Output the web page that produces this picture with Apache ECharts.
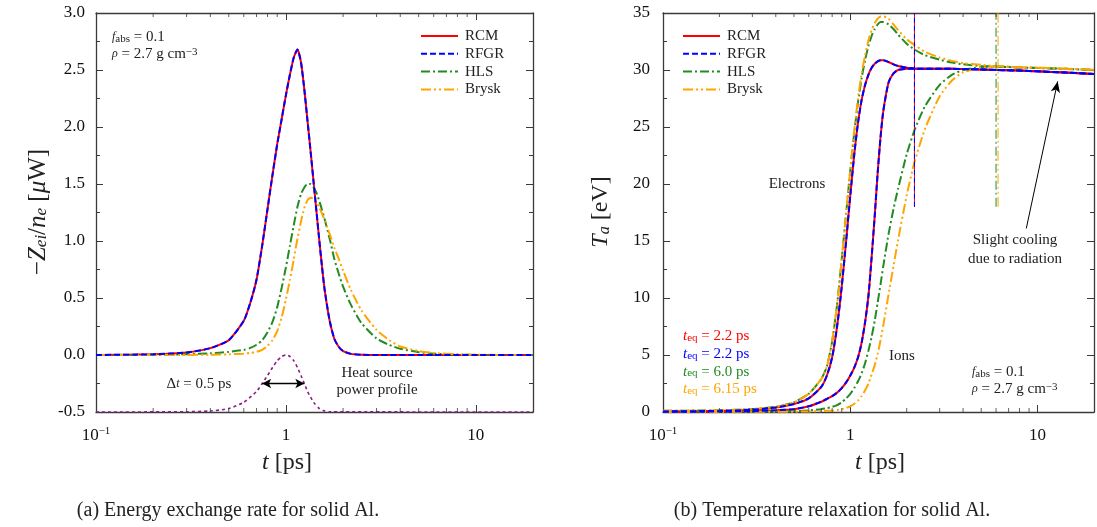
<!DOCTYPE html>
<html>
<head>
<meta charset="utf-8">
<script src="https://cdn.jsdelivr.net/npm/echarts@6/dist/echarts.min.js"></script>
<style>
  html, body { margin: 0; padding: 0; background: #fff; }
  #chart { width: 1097px; height: 527px; }
</style>
</head>
<body>
<div id="chart"></div>
<script>
// ---------- (a) energy exchange rate, -Z_ei / n_e [μW] ----------
const tRate = [0.1, 0.2, 0.3, 0.4, 0.5, 0.6, 0.65, 0.7, 0.75, 0.8, 0.85, 0.9, 0.95, 1.0, 1.05, 1.1, 1.15, 1.2, 1.25, 1.3,
               1.35, 1.4, 1.45, 1.5, 1.55, 1.6, 1.7, 1.8, 1.9, 2.0, 2.2, 2.5, 3.0, 3.5, 4, 5, 6, 8, 10, 20];
const rcmRate   = [0, 0.006, 0.022, 0.06, 0.13, 0.30, 0.46, 0.66, 0.96, 1.28, 1.58, 1.85, 2.07, 2.28, 2.46, 2.61, 2.68, 2.57, 2.33, 2.05,
                   1.78, 1.51, 1.25, 1.00, 0.77, 0.57, 0.30, 0.14, 0.07, 0.035, 0.01, 0.002, 0, 0, 0, 0, 0, 0, 0, 0];
const rfgrRate  = [0, 0.006, 0.022, 0.06, 0.13, 0.30, 0.46, 0.66, 0.96, 1.28, 1.58, 1.85, 2.07, 2.28, 2.46, 2.61, 2.68, 2.57, 2.33, 2.05,
                   1.78, 1.51, 1.25, 1.00, 0.77, 0.57, 0.30, 0.14, 0.07, 0.035, 0.01, 0.002, 0, 0, 0, 0, 0, 0, 0, 0];
const hlsRate   = [0, 0.002, 0.007, 0.015, 0.027, 0.045, 0.062, 0.09, 0.13, 0.20, 0.29, 0.42, 0.59, 0.77, 0.96, 1.14, 1.30, 1.41, 1.47, 1.50,
                   1.50, 1.47, 1.42, 1.35, 1.27, 1.19, 1.02, 0.84, 0.71, 0.60, 0.44, 0.28, 0.145, 0.088, 0.055, 0.025, 0.012, 0.004, 0.001, 0];
const bryskRate = [0, 0, 0.001, 0.003, 0.006, 0.012, 0.018, 0.028, 0.045, 0.08, 0.13, 0.21, 0.33, 0.49, 0.66, 0.84, 1.02, 1.17, 1.29, 1.36,
                   1.38, 1.37, 1.34, 1.29, 1.24, 1.18, 1.06, 0.94, 0.84, 0.74, 0.57, 0.39, 0.22, 0.13, 0.075, 0.035, 0.018, 0.006, 0.002, 0];
// heat source power profile (shifted and scaled, FWHM 0.5 ps)
const tHeat = [0.1, 0.3, 0.4, 0.5, 0.6, 0.7, 0.75, 0.8, 0.85, 0.9, 0.95, 1.0, 1.05, 1.1, 1.15, 1.2, 1.25, 1.3, 1.4, 1.5, 1.6, 1.7, 20];
const heatProfile = [-0.5, -0.498, -0.491, -0.47, -0.415, -0.32, -0.25, -0.18, -0.11, -0.05, -0.013, 0, -0.013, -0.05, -0.11,
                     -0.18, -0.25, -0.32, -0.415, -0.47, -0.491, -0.498, -0.5];
const pulseWidth = [0.75, 1.25];   // Δt = 0.5 ps arrow span
const pulseArrowLevel = -0.25;

// ---------- (b) temperature relaxation, T_a [eV] ----------
const tTemp = [0.1, 0.2, 0.3, 0.4, 0.5, 0.6, 0.7, 0.75, 0.8, 0.85, 0.9, 0.95, 1.0, 1.05, 1.1, 1.15, 1.2, 1.25, 1.3, 1.35,
               1.4, 1.45, 1.5, 1.6, 1.7, 1.8, 2.0, 2.2, 2.5, 3.0, 3.5, 4.0, 5.0, 6.0, 8.0, 10, 14, 20];
const rcmTe   = [0.05, 0.1, 0.2, 0.4, 0.7, 1.2, 2.2, 3.2, 4.8, 7.5, 11.0, 15.0, 19.0, 22.6, 25.4, 27.4, 28.7, 29.6, 30.2, 30.55,
                 30.75, 30.85, 30.85, 30.7, 30.5, 30.35, 30.2, 30.12, 30.1, 30.1, 30.1, 30.08, 30.05, 30.0, 29.95, 29.88, 29.78, 29.65];
const rcmTi   = [0.02, 0.04, 0.08, 0.15, 0.25, 0.5, 0.9, 1.15, 1.4, 1.7, 2.1, 2.6, 3.2, 3.9, 4.8, 6.1, 7.9, 10.2, 13.6, 17.2,
                 21.0, 24.1, 26.4, 28.9, 29.7, 30.0, 30.1, 30.12, 30.1, 30.1, 30.1, 30.08, 30.05, 30.0, 29.95, 29.88, 29.78, 29.65];
const rfgrTe  = [0.05, 0.1, 0.2, 0.4, 0.7, 1.2, 2.2, 3.2, 4.8, 7.5, 11.0, 15.0, 19.0, 22.6, 25.4, 27.4, 28.7, 29.6, 30.2, 30.55,
                 30.75, 30.85, 30.85, 30.7, 30.5, 30.35, 30.2, 30.12, 30.1, 30.1, 30.1, 30.08, 30.05, 30.0, 29.95, 29.88, 29.78, 29.65];
const rfgrTi  = [0.02, 0.04, 0.08, 0.15, 0.25, 0.5, 0.9, 1.15, 1.4, 1.7, 2.1, 2.6, 3.2, 3.9, 4.8, 6.1, 7.9, 10.2, 13.6, 17.2,
                 21.0, 24.1, 26.4, 28.9, 29.7, 30.0, 30.1, 30.12, 30.1, 30.1, 30.1, 30.08, 30.05, 30.0, 29.95, 29.88, 29.78, 29.65];
const hlsTe   = [0.1, 0.15, 0.25, 0.45, 0.85, 1.6, 2.9, 4.0, 6.2, 9.4, 13.4, 17.4, 21.2, 24.5, 27.2, 29.3, 30.9, 32.1, 33.0, 33.6,
                 34.0, 34.2, 34.2, 34.0, 33.6, 33.1, 32.3, 31.8, 31.3, 30.9, 30.65, 30.5, 30.35, 30.3, 30.22, 30.18, 30.1, 30.0];
const hlsTi   = [0.02, 0.03, 0.04, 0.06, 0.08, 0.13, 0.25, 0.33, 0.45, 0.6, 0.85, 1.2, 1.6, 2.1, 2.7, 3.4, 4.3, 5.4, 6.6, 8.0,
                 9.6, 11.2, 12.8, 15.6, 17.8, 19.6, 22.6, 24.7, 26.8, 28.7, 29.6, 30.0, 30.25, 30.3, 30.22, 30.18, 30.1, 30.0];
const bryskTe = [0.1, 0.15, 0.25, 0.45, 0.85, 1.6, 2.9, 4.0, 6.2, 9.4, 13.4, 17.4, 21.3, 24.7, 27.5, 29.7, 31.3, 32.6, 33.5, 34.1,
                 34.5, 34.7, 34.7, 34.5, 34.0, 33.5, 32.7, 32.2, 31.6, 31.1, 30.8, 30.6, 30.45, 30.35, 30.25, 30.2, 30.12, 30.02];
const bryskTi = [0.01, 0.01, 0.02, 0.02, 0.03, 0.05, 0.08, 0.1, 0.12, 0.17, 0.25, 0.36, 0.5, 0.72, 1.0, 1.4, 1.9, 2.5, 3.3, 4.1,
                 5.1, 6.3, 7.6, 10.3, 12.8, 15.1, 19.0, 21.9, 24.8, 27.7, 29.1, 29.8, 30.2, 30.3, 30.25, 30.2, 30.12, 30.02];
// equilibration times [ps] and the span of their marker lines [eV]
const tEqRcm = 2.2, tEqRfgr = 2.2, tEqHls = 6.0, tEqBrysk = 6.15;
const tEqSpan = [18, 35];
// arrow pointing at the radiative cooling tail: [t, T] start and end
const coolingArrow = [[8.7, 16.1], [12.8, 29.0]];

// ---------- axes ----------
const tRange = [0.1, 20];
const rateRange = [-0.5, 3.0], rateStep = 0.5;
const tempRange = [0, 35], tempStep = 5;
const logMinorTicks = [0.2, 0.3, 0.4, 0.5, 0.6, 0.7, 0.8, 0.9, 2, 3, 4, 5, 6, 7, 8, 9];
const modelNames = ['RCM', 'RFGR', 'HLS', 'Brysk'];

// ---------- styling ----------
const FONT = "'Liberation Serif','DejaVu Serif',serif";
const AXIS_COLOR = '#3a3a3a';
const C = { rcm: '#ff0000', rfgr: '#0000ff', hls: '#228b22', brysk: '#ffa500', heat: '#8b1a8b' };
const DASH = { rcm: null, rfgr: [6, 3], hls: [9, 3, 2, 3], brysk: [10, 3, 2, 3, 2, 3], heat: [3, 3] };
const MODEL_KEYS = ['rcm', 'rfgr', 'hls', 'brysk'];

const pairs = (ts, vs) => ts.map((t, i) => [t, vs[i]]);

const GRIDS = [
  { left: 96, top: 13, width: 437, height: 399 },
  { left: 663, top: 13, width: 437, height: 399 }
];

const richMath = {
  i: { fontFamily: FONT, fontStyle: 'italic' },
  sub: { fontFamily: FONT, fontSize: 11, verticalAlign: 'bottom', lineHeight: 12 },
  sup: { fontFamily: FONT, fontSize: 11, verticalAlign: 'top', lineHeight: 12 }
};

function logLabel(v) {
  if (Math.abs(v - 0.1) < 1e-9) return '10{sup|−1}';
  if (Math.abs(v - 1) < 1e-9) return '1';
  if (Math.abs(v - 10) < 1e-9) return '10';
  return '';
}

function xAxisPair(gridIndex) {
  const common = {
    type: 'log', logBase: 10, min: tRange[0], max: tRange[1], gridIndex,
    axisLine: { show: true, onZero: false, lineStyle: { color: AXIS_COLOR, width: 1.3 } },
    axisTick: { show: true, inside: true, length: 7, lineStyle: { color: AXIS_COLOR, width: 1 } },
    splitLine: { show: false }
  };
  return [
    Object.assign({}, common, {
      position: 'bottom',
      axisLabel: {
        show: true, margin: 14, fontFamily: FONT, fontSize: 17, color: '#111', lineHeight: 20,
        formatter: logLabel,
        rich: { sup: { fontFamily: FONT, fontSize: 11, verticalAlign: 'top', lineHeight: 12, color: '#111' } }
      }
    }),
    Object.assign({}, common, { position: 'top', axisLabel: { show: false } })
  ];
}

function yAxisPair(gridIndex, range, step, fmt, margin) {
  const common = {
    type: 'value', min: range[0], max: range[1], interval: step, gridIndex,
    axisLine: { show: true, onZero: false, lineStyle: { color: AXIS_COLOR, width: 1.3 } },
    axisTick: { show: true, inside: true, length: 7, lineStyle: { color: AXIS_COLOR, width: 1 } },
    minorTick: { show: true, splitNumber: 2, length: 4, lineStyle: { color: AXIS_COLOR, width: 1 } },
    splitLine: { show: false }
  };
  return [
    Object.assign({}, common, {
      position: 'left',
      axisLabel: { show: true, margin, fontFamily: FONT, fontSize: 17, color: '#111', formatter: fmt }
    }),
    Object.assign({}, common, { position: 'right', axisLabel: { show: false } })
  ];
}

function curve(name, ts, vs, key, width, xi, yi, z) {
  const color = C[key];
  return {
    type: 'line', name, data: pairs(ts, vs), xAxisIndex: xi, yAxisIndex: yi,
    showSymbol: false, symbol: 'none', smooth: 0.2,
    lineStyle: { color, width, type: DASH[key] || 'solid' }, itemStyle: { color },
    z: z || 2, silent: true, animation: false
  };
}

function minorTickSeries(xi, yi, yBottom, yTop) {
  const style = { color: AXIS_COLOR };
  return [
    { type: 'scatter', xAxisIndex: xi, yAxisIndex: yi, data: logMinorTicks.map(v => [v, yBottom]),
      symbol: 'rect', symbolSize: [1, 4], symbolOffset: [0, -2], itemStyle: style, clip: false, silent: true, z: 5, animation: false },
    { type: 'scatter', xAxisIndex: xi, yAxisIndex: yi, data: logMinorTicks.map(v => [v, yTop]),
      symbol: 'rect', symbolSize: [1, 4], symbolOffset: [0, 2], itemStyle: style, clip: false, silent: true, z: 5, animation: false }
  ];
}

function vline(name, t, key, dash, z) {
  const color = C[key];
  return {
    type: 'line', name, xAxisIndex: 2, yAxisIndex: 2, data: [[t, tEqSpan[0]], [t, tEqSpan[1]]],
    showSymbol: false, symbol: 'none', lineStyle: { color, width: 1, type: dash || 'solid' },
    itemStyle: { color }, z: z || 2, silent: true, animation: false
  };
}

function text(x, y, str, opts) {
  return {
    type: 'text', x, y, silent: true, z: 10,
    rotation: (opts && opts.rotation) || 0,
    style: Object.assign({
      text: str, fill: '#222', fontFamily: FONT, fontSize: 15,
      align: 'left', verticalAlign: 'middle', rich: richMath
    }, opts && opts.style)
  };
}

// legend block: sample line + model name, one row per model
function legendBlock(x0, y0) {
  const out = [];
  modelNames.forEach((name, k) => {
    const key = MODEL_KEYS[k];
    const y = y0 + k * 17.8;
    out.push({
      type: 'line', silent: true, z: 10,
      shape: { x1: x0, y1: y, x2: x0 + 37, y2: y },
      style: { stroke: C[key], lineWidth: 2, lineDash: DASH[key] || null }
    });
    out.push(text(x0 + 44, y, name));
  });
  return out;
}

const series = [
  // (a)
  curve('heat', tHeat, heatProfile, 'heat', 1.6, 0, 0, 1),
  curve('RCM', tRate, rcmRate, 'rcm', 2, 0, 0, 2),
  curve('RFGR', tRate, rfgrRate, 'rfgr', 2, 0, 0, 3),
  curve('HLS', tRate, hlsRate, 'hls', 2, 0, 0, 2),
  curve('Brysk', tRate, bryskRate, 'brysk', 2, 0, 0, 2),
  {
    type: 'line', xAxisIndex: 0, yAxisIndex: 0, data: [], silent: true, animation: false,
    markLine: {
      silent: true, animation: false, symbol: ['arrow', 'arrow'], symbolSize: [7, 9],
      label: { show: false }, lineStyle: { color: '#000', width: 1.3, type: 'solid' },
      data: [[{ coord: [pulseWidth[0], pulseArrowLevel] }, { coord: [pulseWidth[1], pulseArrowLevel] }]]
    }
  },
  ...minorTickSeries(0, 0, rateRange[0], rateRange[1]),
  // (b)
  curve('RCM', tTemp, rcmTe, 'rcm', 2, 2, 2, 2),
  curve('RCM', tTemp, rcmTi, 'rcm', 2, 2, 2, 2),
  curve('RFGR', tTemp, rfgrTe, 'rfgr', 2, 2, 2, 3),
  curve('RFGR', tTemp, rfgrTi, 'rfgr', 2, 2, 2, 3),
  curve('HLS', tTemp, hlsTe, 'hls', 2, 2, 2, 2),
  curve('HLS', tTemp, hlsTi, 'hls', 2, 2, 2, 2),
  curve('Brysk', tTemp, bryskTe, 'brysk', 2, 2, 2, 2),
  curve('Brysk', tTemp, bryskTi, 'brysk', 2, 2, 2, 2),
  vline('RCM', tEqRcm, 'rcm', 'solid', 2),
  vline('RFGR', tEqRfgr, 'rfgr', [5, 3], 3),
  vline('HLS', tEqHls, 'hls', DASH.hls, 2),
  vline('Brysk', tEqBrysk, 'brysk', DASH.brysk, 2),
  {
    type: 'line', xAxisIndex: 2, yAxisIndex: 2, data: [], silent: true, animation: false,
    markLine: {
      silent: true, animation: false, symbol: ['none', 'arrow'], symbolSize: [7, 11],
      label: { show: false }, lineStyle: { color: '#000', width: 1, type: 'solid' },
      data: [[{ coord: coolingArrow[0] }, { coord: coolingArrow[1] }]]
    }
  },
  ...minorTickSeries(2, 2, tempRange[0], tempRange[1])
];

const eqLabels = [
  ['{i|t}{sub|eq} = 2.2 ps', C.rcm],
  ['{i|t}{sub|eq} = 2.2 ps', C.rfgr],
  ['{i|t}{sub|eq} = 6.0 ps', C.hls],
  ['{i|t}{sub|eq} = 6.15 ps', C.brysk]
];

function colorRich(color) {
  return {
    i: { fontFamily: FONT, fontStyle: 'italic', fill: color, fontSize: 15 },
    sub: { fontFamily: FONT, fontSize: 11, verticalAlign: 'bottom', lineHeight: 12, fill: color }
  };
}

const titleRich = {
  i: { fontFamily: FONT, fontStyle: 'italic', fontSize: 24 },
  sub: { fontFamily: FONT, fontStyle: 'italic', fontSize: 16, verticalAlign: 'bottom', lineHeight: 16 }
};

const graphic = [
  ...legendBlock(421, 36),
  ...legendBlock(683, 36),
  // (a) annotations
  text(112, 37, '{i|f}{sub|abs} = 0.1'),
  text(112, 54, '{i|ρ} = 2.7 g cm{sup|−3}'),
  text(199, 384, 'Δ{i|t} = 0.5 ps', { style: { align: 'center' } }),
  text(377, 373, 'Heat source', { style: { align: 'center' } }),
  text(377, 390, 'power profile', { style: { align: 'center' } }),
  // (b) annotations
  text(797, 184, 'Electrons', { style: { align: 'center' } }),
  text(902, 356, 'Ions', { style: { align: 'center' } }),
  text(1015, 240, 'Slight cooling', { style: { align: 'center' } }),
  text(1015, 259, 'due to radiation', { style: { align: 'center' } }),
  text(972, 372, '{i|f}{sub|abs} = 0.1'),
  text(972, 389, '{i|ρ} = 2.7 g cm{sup|−3}'),
  ...eqLabels.map((l, k) => text(683, 336 + k * 17.8, l[0], { style: { fill: l[1], rich: colorRich(l[1]) } })),
  // axis titles
  text(287, 463, '{i|t} [ps]', { style: { align: 'center', fontSize: 24, rich: titleRich } }),
  text(880, 463, '{i|t} [ps]', { style: { align: 'center', fontSize: 24, rich: titleRich } }),
  text(38, 212, '−{i|Z}{sub|ei}/{i|n}{sub|e} [{i|μ}W]', {
    rotation: Math.PI / 2, style: { align: 'center', fontSize: 25, rich: {
      i: { fontFamily: FONT, fontStyle: 'italic', fontSize: 25 },
      sub: { fontFamily: FONT, fontStyle: 'italic', fontSize: 17, verticalAlign: 'bottom', lineHeight: 17 }
    } }
  }),
  text(601, 212, '{i|T}{sub|a} [eV]', { rotation: Math.PI / 2, style: { align: 'center', fontSize: 24, rich: titleRich } }),
  // captions
  text(228, 511, '(a) Energy exchange rate for solid Al.', { style: { align: 'center', fontSize: 20 } }),
  text(832, 511, '(b) Temperature relaxation for solid Al.', { style: { align: 'center', fontSize: 20 } })
];

const chart = echarts.init(document.getElementById('chart'), null, { renderer: 'canvas' });
chart.setOption({
  backgroundColor: '#ffffff',
  animation: false,
  grid: GRIDS,
  xAxis: [...xAxisPair(0), ...xAxisPair(1)],
  yAxis: [
    ...yAxisPair(0, rateRange, rateStep, v => v.toFixed(1), 11),
    ...yAxisPair(1, tempRange, tempStep, v => String(v), 13)
  ],
  series,
  graphic
});
</script>
</body>
</html>
